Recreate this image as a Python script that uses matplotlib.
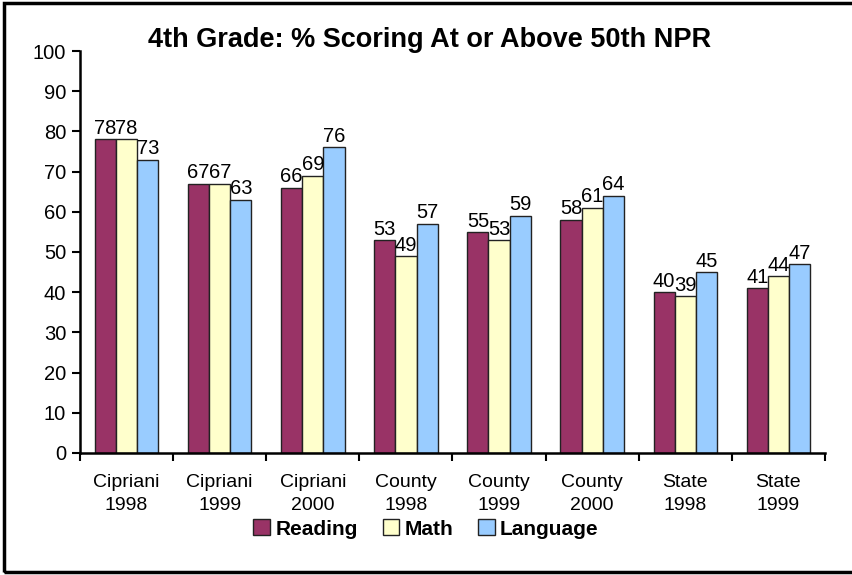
import numpy as np
import matplotlib.pyplot as plt
from matplotlib.patches import Rectangle

categories = ['Cipriani\n1998', 'Cipriani\n1999', 'Cipriani\n2000',
              'County\n1998', 'County\n1999', 'County\n2000',
              'State\n1998', 'State\n1999']
reading = [78, 67, 66, 53, 55, 58, 40, 41]
math = [78, 67, 69, 49, 53, 61, 39, 44]
language = [73, 63, 76, 57, 59, 64, 45, 47]

series = [('Reading', reading, '#993366'),
          ('Math', math, '#FFFFCC'),
          ('Language', language, '#99CCFF')]

plt.rcParams['font.family'] = ['Liberation Sans', 'DejaVu Sans']

fig = plt.figure(figsize=(8.52, 5.75), dpi=100)
ax = fig.add_axes([0.0939, 0.2122, 0.8744, 0.6991])

x = np.arange(len(categories))
width = 0.227
for i, (name, vals, color) in enumerate(series):
    bars = ax.bar(x + (i - 1) * width, vals, width, color=color,
                  edgecolor='#222222', linewidth=1.0, label=name)
    ax.bar_label(bars, padding=1, fontsize=14.5)

ax.set_xlim(-0.5, len(categories) - 0.5)
ax.set_ylim(0, 100)
ax.set_yticks(range(0, 101, 10))
ax.tick_params(axis='y', labelsize=14.5, length=6, width=1.5, direction='out',
               pad=4)

ax.set_xticks(x)
ax.set_xticklabels(categories, fontsize=14, linespacing=1.5)
ax.set_xticks(np.arange(len(categories) + 1) - 0.5, minor=True)
ax.tick_params(axis='x', which='major', length=0, pad=15)
ax.tick_params(axis='x', which='minor', length=6, width=1.5, direction='out')

for s in ['top', 'right']:
    ax.spines[s].set_visible(False)
for s in ['left', 'bottom']:
    ax.spines[s].set_linewidth(1.8)

fig.text(0.504, 0.93, '4th Grade: % Scoring At or Above 50th NPR',
         ha='center', va='center', fontsize=19.5, fontweight='bold')

leg = fig.legend(loc='center', bbox_to_anchor=(0.5, 0.080), ncol=3,
                 frameon=False, prop={'weight': 'bold', 'size': 15},
                 handlelength=0.8, handleheight=0.8, handletextpad=0.25,
                 columnspacing=1.2)

# figure border (right edge is cut off in the original)
fig.add_artist(Rectangle((0.005, 0.005), 1.2, 0.989, transform=fig.transFigure,
                         fill=False, edgecolor='black', linewidth=2.5))

plt.savefig('out.png', dpi=100)
